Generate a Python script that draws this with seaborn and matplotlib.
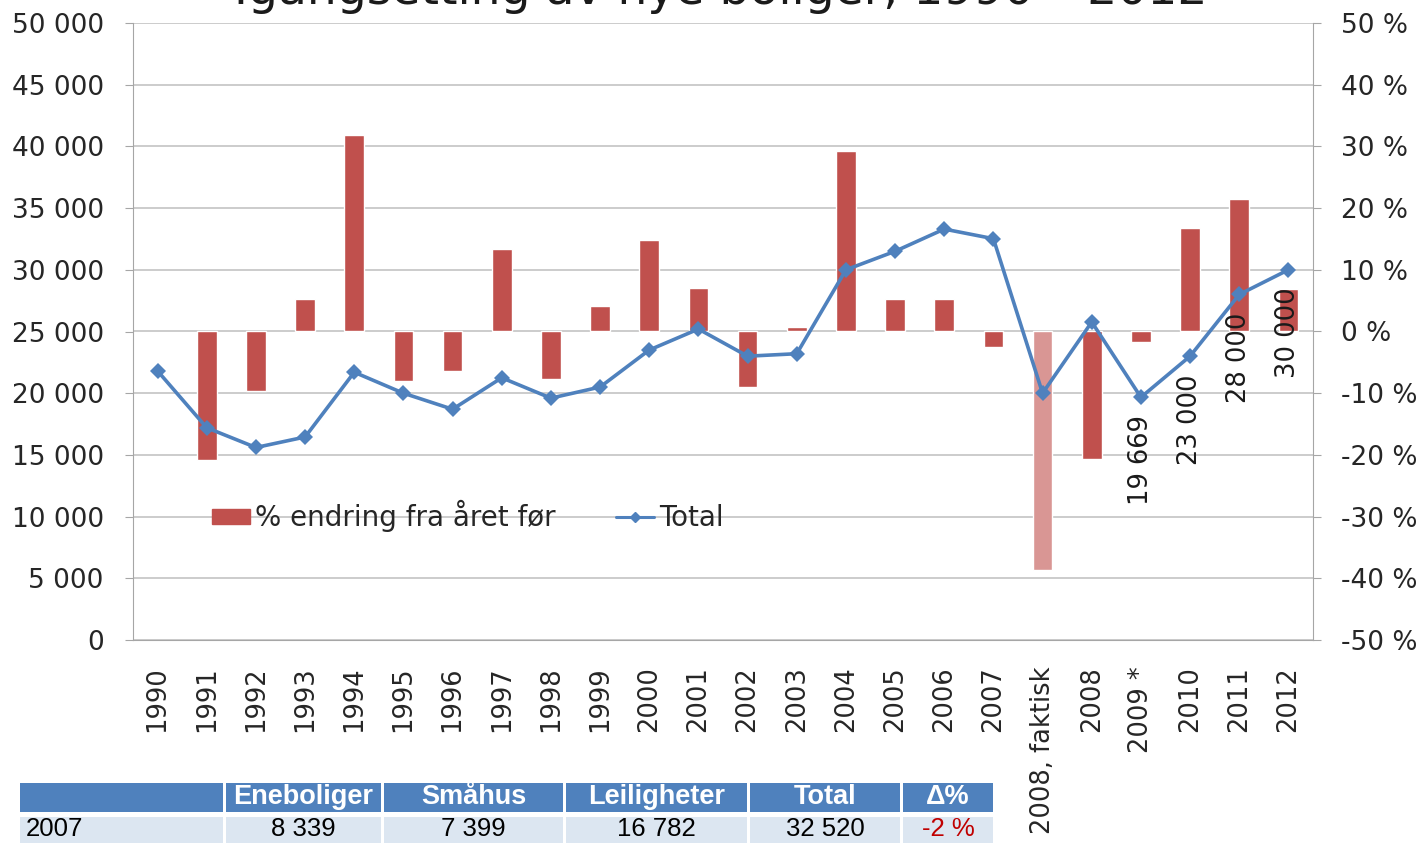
import numpy as np
import pandas as pd
import matplotlib
matplotlib.use("Agg")
import matplotlib.pyplot as plt
from matplotlib.patches import Patch, Rectangle
from matplotlib.lines import Line2D
import matplotlib.ticker as mticker
import seaborn as sns

years = ["1990", "1991", "1992", "1993", "1994", "1995", "1996", "1997", "1998", "1999",
         "2000", "2001", "2002", "2003", "2004", "2005", "2006", "2007", "2008, faktisk",
         "2008", "2009 *", "2010", "2011", "2012"]
total = [21800, 17200, 15600, 16450, 21700, 20000, 18700, 21250, 19600, 20500,
         23500, 25200, 23000, 23200, 30000, 31500, 33300, 32520, 20000,
         25770, 19669, 23000, 28000, 30000]
# 1990 has no bar (no previous year)
pct_change = [np.nan, -20.8, -9.6, 5.3, 31.8, -8.0, -6.4, 13.4, -7.7, 4.1,
              14.8, 7.0, -9.0, 0.7, 29.3, 5.3, 5.3, -2.5, -38.6,
              -20.7, -1.7, 16.8, 21.5, 6.9]
labelled = ["2009 *", "2010", "2011", "2012"]

table_header = ["", "Eneboliger", "Småhus", "Leiligheter", "Total", "Δ%"]
table_row = ["2007", "8 339", "7 399", "16 782", "32 520", "-2 %"]

RED = "#C0504D"
BLUE = "#4F81BD"
bar_colors = [RED if y != "2008, faktisk" else "#D99694" for y in years]

sns.set_style("white")
plt.rcParams["font.family"] = ["DejaVu Sans"]

W, H = 1427, 843
fig = plt.figure(figsize=(W / 100, H / 100), dpi=100)
ax = fig.add_axes([133 / W, 1 - 640 / H, (1313 - 133) / W, (640 - 23) / H])
ax2 = ax.twinx()

n = len(years)
x = np.arange(n)
df = pd.DataFrame({"year": years, "pct": pct_change, "total": total, "x": x})

# bars on the right (percent) axis
sns.barplot(data=df.dropna(), x="x", y="pct", hue="year", palette=bar_colors[1:],
            order=list(range(n)), width=0.40, legend=False, ax=ax2, saturation=1)
ax2.set_ylim(-50, 50)
ax2.set_yticks(np.arange(-50, 51, 10))
ax2.yaxis.set_major_formatter(mticker.FuncFormatter(lambda v, p: f"{v:.0f} %"))
ax2.grid(axis="y", color="#C4C4C4", linewidth=1.2)
ax2.set_axisbelow(True)
ax2.set_ylabel("")
ax2.set_xlabel("")

# line on the left (total) axis, drawn in front
ax.set_zorder(ax2.get_zorder() + 1)
ax.patch.set_visible(False)
sns.lineplot(data=df, x="x", y="total", ax=ax, color=BLUE, linewidth=2.6,
             marker="D", markersize=8, markeredgewidth=0)
ax.set_ylim(0, 50000)
ax.set_yticks(np.arange(0, 50001, 5000))
ax.yaxis.set_major_formatter(mticker.FuncFormatter(lambda v, p: f"{v:,.0f}".replace(",", " ")))
ax.set_ylabel("")
ax.set_xlabel("")

for i, y in enumerate(years):
    if y in labelled:
        ax.annotate(f"{total[i]:,}".replace(",", " "), (i, total[i]), xytext=(0, -13),
                    textcoords="offset points", rotation=90, ha="center", va="top",
                    fontsize=18.5, color="#1a1a1a")

ax.set_xlim(-0.5, n - 0.5)
ax.set_xticks(x)
ax.set_xticklabels(years, rotation=90, va="top", fontsize=18.5)
ax.set_xticks(np.arange(-0.5, n, 1), minor=True)
ax.tick_params(axis="x", which="major", length=0, pad=19)
ax.tick_params(axis="x", which="minor", length=9, color="#A6A6A6", width=1)
ax.tick_params(axis="y", length=6, color="#A6A6A6", labelsize=19, pad=15)
ax2.tick_params(axis="y", length=6, color="#A6A6A6", labelsize=19, pad=14)

for a in (ax, ax2):
    for s in a.spines.values():
        s.set_visible(False)
ax.spines["left"].set_visible(True)
ax.spines["left"].set_color("#A6A6A6")
ax.spines["bottom"].set_visible(True)
ax.spines["bottom"].set_color("#A6A6A6")
ax2.spines["right"].set_visible(True)
ax2.spines["right"].set_color("#A6A6A6")

handles = [Patch(color=RED),
           Line2D([], [], color=BLUE, marker="D", markersize=5, linewidth=2.2)]
ax.legend(handles, ["% endring fra året før", "Total"], loc="center left",
          bbox_to_anchor=(0.067, 0.201), ncol=2, frameon=False, fontsize=20,
          handlelength=1.35, handleheight=0.45, handletextpad=0.18,
          columnspacing=2.2, borderpad=0, borderaxespad=0)

fig.text(0.505, 1 - 4 / H, "Igangsetting av nye boliger, 1990 – 2012",
         ha="center", va="baseline", fontsize=34, color="#1a1a1a")

# small table below the chart
col_edges = [(20, 223), (226, 381), (384, 563), (566, 747), (750, 900), (903, 993)]
tf = ["Liberation Sans Narrow", "Liberation Sans", "DejaVu Sans"]
for j, (x0, x1) in enumerate(col_edges):
    fig.add_artist(Rectangle((x0 / W, 1 - 812 / H), (x1 - x0) / W, 29 / H,
                             transform=fig.transFigure, color=BLUE, lw=0))
    fig.add_artist(Rectangle((x0 / W, 1 - 850 / H), (x1 - x0) / W, 33 / H,
                             transform=fig.transFigure, color="#DCE6F1", lw=0))
    fig.text((x0 + x1) / 2 / W, 1 - 797 / H, table_header[j], ha="center", va="center",
             fontsize=19.5, fontweight="bold", color="white", family=tf)
    col = "#C00000" if j == 5 else "black"
    if j == 0:
        fig.text((x0 + 6) / W, 1 - 829 / H, table_row[j], ha="left", va="center",
                 fontsize=18.5, color=col, family=tf)
    else:
        fig.text((x0 + x1) / 2 / W, 1 - 829 / H, table_row[j], ha="center", va="center",
                 fontsize=18.5, color=col, family=tf)

fig.savefig("out.png", dpi=100)
